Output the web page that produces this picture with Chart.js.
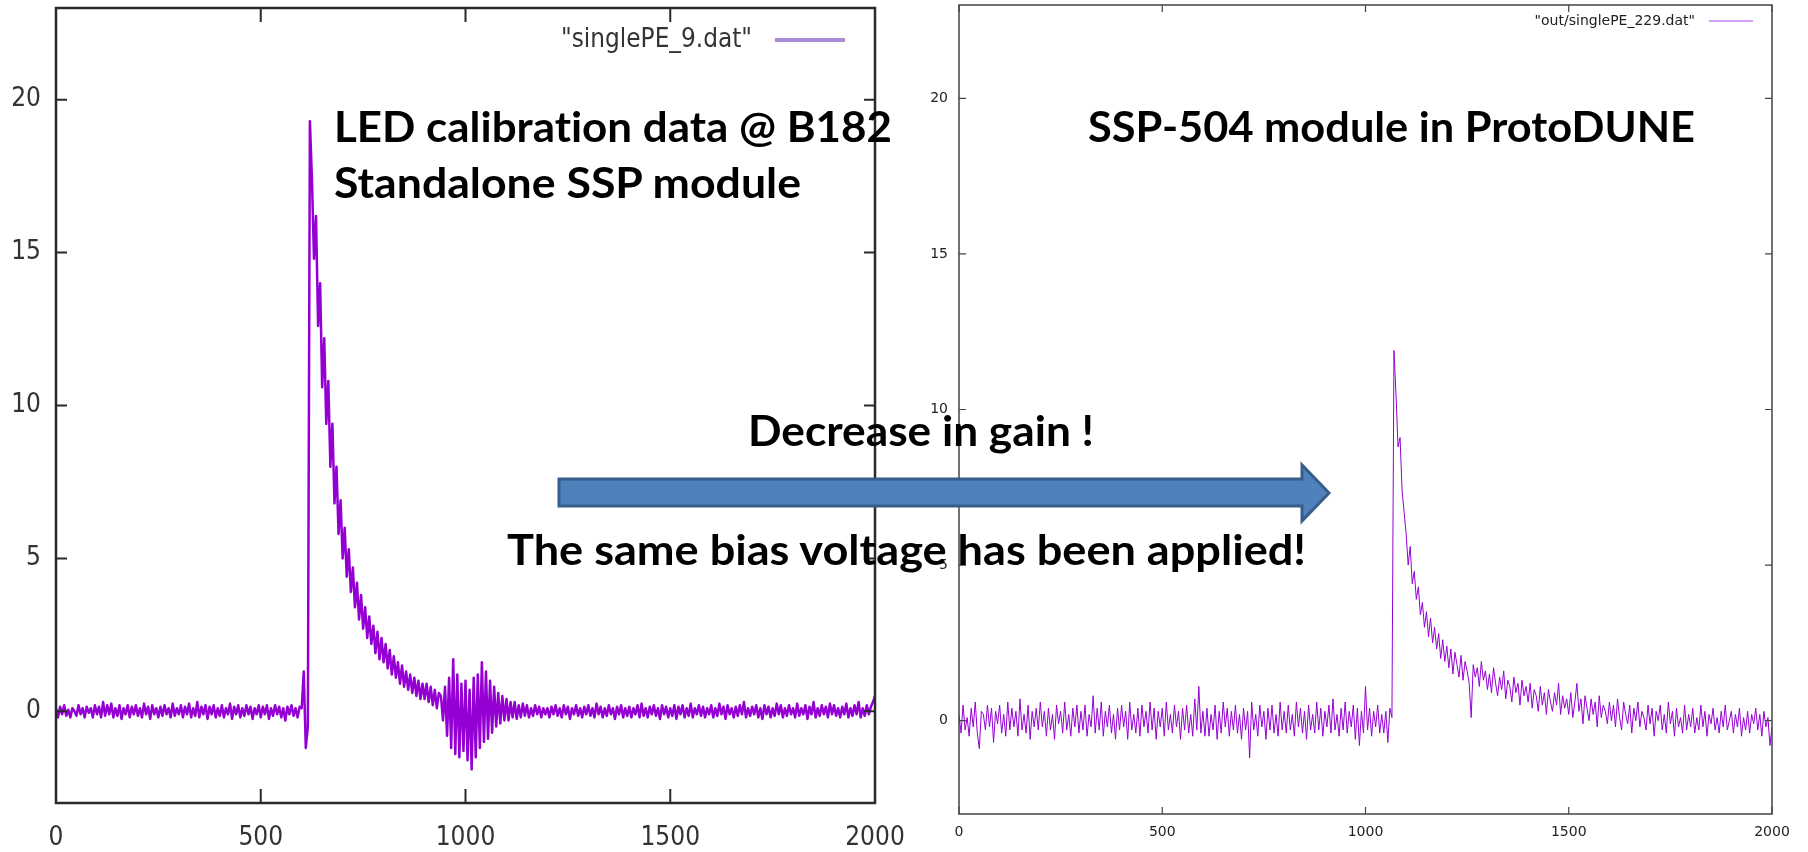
<!DOCTYPE html>
<html>
<head>
<meta charset="utf-8" />
<title>singlePE waveforms: B182 vs ProtoDUNE</title>
<style>
  html, body { margin: 0; padding: 0; background: #fff; }
  body { width: 1808px; height: 852px; position: relative; overflow: hidden; }
  #left { position: absolute; left: 0; top: 0; }
  #right { position: absolute; left: 920px; top: 0; }
  #notes { position: absolute; left: 0; top: 0; pointer-events: none; }
  #notes text { font-family: Lato, "Open Sans", sans-serif; font-weight: 700; fill: #000;
                font-variant-ligatures: none; font-feature-settings: "liga" 0; }
</style>
</head>
<body>
<canvas id="left" width="920" height="852"></canvas>
<canvas id="right" width="888" height="852"></canvas>

<svg id="notes" width="1808" height="852" xmlns="http://www.w3.org/2000/svg">
  <polygon points="559,479 1302,479 1302,465 1329,493 1302,521 1302,506 559,506"
           fill="#4f81bd" stroke="#385d8a" stroke-width="3" stroke-linejoin="miter" />
  <text x="334" y="142" font-size="42" textLength="558" lengthAdjust="spacingAndGlyphs">LED calibration data @ B182</text>
  <text x="334" y="198" font-size="42" textLength="467" lengthAdjust="spacingAndGlyphs">Standalone SSP module</text>
  <text x="1088" y="142" font-size="42" textLength="607" lengthAdjust="spacingAndGlyphs">SSP-504 module in ProtoDUNE</text>
  <text x="748" y="446" font-size="42" textLength="346" lengthAdjust="spacingAndGlyphs">Decrease in gain !</text>
  <text x="507" y="565" font-size="42" textLength="799" lengthAdjust="spacingAndGlyphs">The same bias voltage has been applied!</text>
</svg>

<script src="https://cdn.jsdelivr.net/npm/chart.js@4.4.0/dist/chart.umd.min.js"></script>
<script>
// sample index runs 0..2000, one value every 5 samples
const sampleStep = 5;
const xTicks = [0, 500, 1000, 1500, 2000];
const yTicks = [0, 5, 10, 15, 20];

// "singlePE_9.dat" - LED calibration @ B182
const leftSignal = [
  0.1,-0.2,0.15,-0.1,0.2,-0.15,0.05,-0.2,0.1,0,-0.15,0.2,-0.1,0.1,-0.2,0.15,-0.05,0.1,-0.2,0.2,
  -0.1,0.15,-0.2,0.3,-0.15,0.2,-0.1,0.25,-0.2,0.1,-0.15,0.2,-0.25,0.1,-0.1,0.2,-0.2,0.15,-0.1,0.2,
  -0.15,0.1,-0.2,0.25,-0.1,0.15,-0.25,0.2,-0.1,0.1,-0.2,0.15,-0.15,0.2,-0.1,0.1,-0.2,0.25,-0.15,0.1,
  -0.1,0.2,-0.2,0.15,-0.1,0.25,-0.2,0.1,-0.15,0.3,-0.2,0.15,-0.1,0.2,-0.25,0.15,-0.1,0.2,-0.2,0.1,
  -0.15,0.2,-0.2,0.1,-0.1,0.25,-0.25,0.15,-0.1,0.2,-0.2,0.1,-0.15,0.2,-0.1,0.15,-0.25,0.1,-0.1,0.2,
  -0.2,0.15,-0.1,0.2,-0.25,0.1,-0.15,0.2,-0.1,0.15,-0.2,0.1,-0.3,0.15,-0.1,0.2,-0.15,0.1,-0.2,0.15,
  0.1,1.3,-1.2,-0.5,19.3,17.4,14.8,16.2,12.6,14.0,10.6,12.2,9.4,10.8,8.0,9.4,6.8,8.0,5.8,6.9,
  5.0,6.0,4.4,5.3,3.9,4.7,3.4,4.2,3.0,3.8,2.7,3.4,2.4,3.1,2.2,2.8,1.9,2.6,1.7,2.4,
  1.6,2.2,1.4,2.0,1.2,1.8,1.1,1.6,0.9,1.5,0.8,1.3,0.7,1.2,0.6,1.1,0.5,1.0,0.4,0.9,
  0.4,0.9,0.3,0.8,0.2,0.7,0.1,0.6,0.5,-0.3,0.8,-0.8,1.1,-1.2,1.7,-1.4,1.2,-1.5,0.9,-1.3,
  1.0,-1.6,0.7,-1.9,1.1,-1.5,1.2,-1.2,1.6,-1.0,1.3,-0.9,1.0,-0.7,0.8,-0.5,0.6,-0.4,0.5,-0.3,
  0.4,-0.3,0.3,-0.2,0.3,-0.25,0.2,-0.2,0.25,-0.15,0.2,-0.2,0.1,-0.15,0.2,-0.1,0.15,-0.2,0.1,-0.1,
  0.1,-0.2,0.15,-0.1,0.2,-0.15,0.1,-0.2,0.2,-0.1,0.15,-0.25,0.1,-0.1,0.2,-0.15,0.1,-0.2,0.15,-0.1,
  0.2,-0.15,0.1,-0.2,0.25,-0.1,0.15,-0.2,0.1,-0.15,0.2,-0.1,0.1,-0.25,0.15,-0.1,0.2,-0.2,0.1,-0.15,
  0.15,-0.2,0.1,-0.1,0.2,-0.2,0.25,-0.15,0.1,-0.2,0.15,-0.1,0.2,-0.15,0.1,-0.25,0.2,-0.1,0.15,-0.2,
  0.1,-0.15,0.2,-0.25,0.15,-0.1,0.2,-0.2,0.1,-0.15,0.25,-0.2,0.1,-0.1,0.2,-0.15,0.15,-0.2,0.1,-0.1,
  0.2,-0.2,0.1,-0.15,0.25,-0.1,0.15,-0.25,0.2,-0.1,0.1,-0.2,0.15,-0.15,0.2,-0.1,0.3,-0.2,0.1,-0.15,
  0.15,-0.1,0.2,-0.2,0.1,-0.25,0.2,-0.1,0.15,-0.2,0.1,-0.15,0.25,-0.1,0.2,-0.2,0.1,-0.15,0.2,-0.1,
  0.1,-0.2,0.25,-0.15,0.1,-0.1,0.2,-0.25,0.15,-0.1,0.3,-0.2,0.1,-0.15,0.2,-0.1,0.15,-0.2,0.25,-0.1,
  0.2,-0.15,0.1,-0.2,0.15,-0.1,0.25,-0.2,0.1,-0.15,0.2,-0.1,0.3,-0.2,0.1,-0.15,0.2,-0.1,0.15,0.3,
  0.5
];

// "out/singlePE_229.dat" - SSP-504 in ProtoDUNE
const rightSignal = [
  0.2,-0.4,0.5,-0.3,0.1,-0.5,0.4,-0.2,0.6,-0.4,-0.9,0.3,0.2,-0.3,0.5,-0.2,0.4,-0.7,0.3,-0.1,
  0.5,-0.4,0.2,-0.5,0.6,-0.3,0.4,-0.2,0.3,-0.5,0.7,-0.3,0.2,-0.4,0.5,-0.6,0.3,-0.2,0.4,-0.3,
  0.6,-0.2,0.3,-0.5,0.4,-0.3,0.2,-0.6,0.5,-0.1,0.3,-0.4,0.6,-0.3,0.2,-0.5,0.4,-0.2,0.5,-0.4,
  0.3,-0.3,0.5,-0.5,0.2,-0.2,0.8,-0.4,0.4,-0.3,0.6,-0.5,0.3,-0.2,0.5,-0.4,0.2,-0.6,0.4,-0.3,
  0.5,-0.2,0.3,-0.6,0.6,-0.3,0.2,-0.4,0.4,-0.5,0.5,-0.2,0.3,-0.4,0.6,-0.3,0.4,-0.6,0.3,-0.2,
  0.4,-0.5,0.6,-0.3,0.2,-0.4,0.5,-0.2,0.3,-0.6,0.4,-0.3,0.5,-0.4,0.2,-0.5,0.7,-0.3,1.1,-0.4,
  0.3,-0.5,0.4,-0.5,0.2,-0.3,0.5,-0.6,0.3,-0.4,0.6,-0.2,0.4,-0.5,0.3,-0.3,0.5,-0.4,0.2,-0.6,
  0.4,-0.3,0.3,-1.2,0.6,-0.3,0.2,-0.5,0.5,-0.2,0.3,-0.6,0.4,-0.3,0.5,-0.4,0.2,-0.5,0.6,-0.3,
  0.3,-0.4,0.5,-0.3,0.2,-0.5,0.6,-0.2,0.4,-0.4,0.3,-0.6,0.5,-0.3,0.2,-0.4,0.6,-0.3,0.4,-0.5,
  0.3,-0.2,0.5,-0.4,0.7,-0.3,0.2,-0.5,0.4,-0.3,0.6,-0.4,0.3,-0.2,0.5,-0.6,0.4,-0.8,0.3,-0.4,
  1.1,-0.3,0.4,-0.5,0.3,-0.2,0.5,-0.4,0.2,-0.4,0.3,-0.7,0.4,0.1,11.9,10.5,8.8,9.1,7.4,6.7,
  6.0,5.0,5.6,4.4,4.8,3.9,4.3,3.4,3.8,3.0,3.5,2.7,3.3,2.5,3.0,2.3,2.8,2.0,2.6,1.9,
  2.4,1.7,2.3,1.5,2.2,1.8,1.4,2.1,1.3,1.9,1.6,1.2,0.1,1.8,1.4,1.7,1.1,1.9,1.3,1.6,
  1.0,1.5,0.9,1.7,1.2,0.8,1.4,1.0,1.6,0.7,1.3,1.1,0.6,1.4,0.9,1.2,0.5,1.3,0.8,1.1,
  0.6,1.2,0.4,1.0,0.8,0.3,1.1,0.5,0.9,0.2,1.0,0.6,0.3,0.9,0.5,1.2,0.2,0.8,0.4,0.7,
  0.2,0.9,0.1,0.6,1.2,0.3,0.7,-0.1,0.8,0.4,0.0,0.7,0.2,0.6,-0.2,0.8,0.1,0.5,0.3,-0.1,
  0.6,0.0,0.5,-0.2,0.7,0.1,-0.3,0.6,0.2,-0.1,0.5,-0.4,0.4,0.0,0.6,-0.2,0.3,0.1,-0.3,0.5,
  -0.1,0.4,-0.5,0.3,0.0,0.5,-0.3,0.2,-0.4,0.6,-0.1,0.3,-0.5,0.4,-0.2,0.1,-0.4,0.5,-0.3,0.2,
  -0.2,0.4,-0.4,0.1,-0.3,0.5,-0.2,0.3,-0.5,0.2,-0.1,0.4,-0.3,0.1,-0.4,0.3,-0.2,0.5,-0.3,0.0,
  0.3,-0.4,0.2,-0.2,0.4,-0.5,0.1,-0.3,0.3,-0.4,0.2,-0.1,0.4,-0.3,0.2,-0.5,0.3,-0.2,0.1,-0.8,
  -0.2
];

const toPoints = arr => arr.map((v, i) => ({ x: i * sampleStep, y: v }));

// gnuplot style box with inward ticks on all four sides
const gnuFrame = {
  id: 'gnuFrame',
  afterDatasetsDraw(chart, args, o) {
    const { ctx, chartArea: a, scales: { x, y } } = chart;
    ctx.save();
    ctx.strokeStyle = o.color;
    ctx.lineWidth = o.tickWidth;
    ctx.beginPath();
    x.ticks.forEach(t => {
      const px = x.getPixelForValue(t.value);
      ctx.moveTo(px, a.bottom); ctx.lineTo(px, a.bottom - o.xTick);
      ctx.moveTo(px, a.top); ctx.lineTo(px, a.top + o.xTick);
    });
    y.ticks.forEach(t => {
      const py = y.getPixelForValue(t.value);
      ctx.moveTo(a.left, py); ctx.lineTo(a.left + o.yTick, py);
      ctx.moveTo(a.right, py); ctx.lineTo(a.right - o.yTick, py);
    });
    ctx.stroke();
    ctx.lineWidth = o.width;
    ctx.strokeRect(a.left, a.top, a.right - a.left, a.bottom - a.top);
    ctx.restore();
  }
};

// key in the top right corner: title then sample line
const gnuKey = {
  id: 'gnuKey',
  afterDatasetsDraw(chart, args, o) {
    const { ctx, chartArea: a } = chart;
    const ds = chart.data.datasets[0];
    const y = a.top + o.dy;
    ctx.save();
    ctx.font = o.font;
    ctx.fillStyle = o.textColor;
    ctx.textAlign = 'right';
    ctx.textBaseline = 'middle';
    ctx.fillText(ds.label, a.right - o.textRight, y, o.maxWidth);
    ctx.strokeStyle = o.lineColor;
    ctx.lineWidth = o.lineWidth;
    ctx.beginPath();
    ctx.moveTo(a.right - o.lineFrom, y);
    ctx.lineTo(a.right - o.lineTo, y);
    ctx.stroke();
    ctx.restore();
  }
};

function makeChart(id, cfg) {
  const tickFont = { family: cfg.family, size: cfg.fontSize };
  return new Chart(document.getElementById(id), {
    type: 'line',
    data: {
      datasets: [{
        label: cfg.label,
        data: toPoints(cfg.values),
        borderColor: '#9400d3',
        borderWidth: cfg.lineWidth,
        borderJoinStyle: 'round',
        pointRadius: 0,
        tension: 0
      }]
    },
    options: {
      responsive: false,
      animation: false,
      events: [],
      layout: { padding: cfg.padding },
      plugins: {
        legend: { display: false },
        tooltip: { enabled: false },
        gnuFrame: cfg.frame,
        gnuKey: cfg.key
      },
      scales: {
        x: {
          type: 'linear', min: 0, max: 2000,
          afterBuildTicks: s => { s.ticks = xTicks.map(v => ({ value: v })); },
          ticks: { color: cfg.tickColor, font: tickFont, padding: cfg.xPad, maxRotation: 0,
                   autoSkip: false, callback: v => String(v) },
          grid: { display: false, drawTicks: false },
          border: { display: false },
          afterFit: s => { s.height = cfg.xHeight; s.paddingLeft = 0; s.paddingRight = 0; }
        },
        y: {
          type: 'linear', min: -3, max: 23,
          afterBuildTicks: s => { s.ticks = yTicks.map(v => ({ value: v })); },
          ticks: { color: cfg.tickColor, font: tickFont, padding: cfg.yPad, callback: v => String(v) },
          grid: { display: false, drawTicks: false },
          border: { display: false },
          afterFit: s => { s.width = cfg.yWidth; s.paddingTop = 0; s.paddingBottom = 0; }
        }
      }
    },
    plugins: [gnuFrame, gnuKey]
  });
}

makeChart('left', {
  label: '"singlePE_9.dat"',
  values: leftSignal,
  lineWidth: 2.5,
  family: "'DejaVu Sans Condensed', 'DejaVu Sans', sans-serif",
  fontSize: 26,
  tickColor: '#333',
  xPad: 20, yPad: 15,
  xHeight: 49, yWidth: 56,
  padding: { left: 0, top: 8, right: 45, bottom: 0 },
  frame: { color: '#2a2a2a', width: 2.5, tickWidth: 2, xTick: 14, yTick: 11 },
  key: {
    font: "26px 'DejaVu Sans Condensed', 'DejaVu Sans', sans-serif",
    textColor: '#333', dy: 32, textRight: 123, maxWidth: 191,
    lineColor: '#a98bd6', lineWidth: 4, lineFrom: 100, lineTo: 30
  }
});

makeChart('right', {
  label: '"out/singlePE_229.dat"',
  values: rightSignal,
  lineWidth: 1,
  family: "'DejaVu Sans', sans-serif",
  fontSize: 14,
  tickColor: '#222',
  xPad: 10, yPad: 11,
  xHeight: 38, yWidth: 39,
  padding: { left: 0, top: 5, right: 36, bottom: 0 },
  frame: { color: '#444', width: 1.5, tickWidth: 1.2, xTick: 7, yTick: 7 },
  key: {
    font: "14px 'DejaVu Sans', sans-serif",
    textColor: '#222', dy: 16, textRight: 77, maxWidth: 172,
    lineColor: '#c27ff0', lineWidth: 1.5, lineFrom: 63, lineTo: 19
  }
});
</script>
</body>
</html>
